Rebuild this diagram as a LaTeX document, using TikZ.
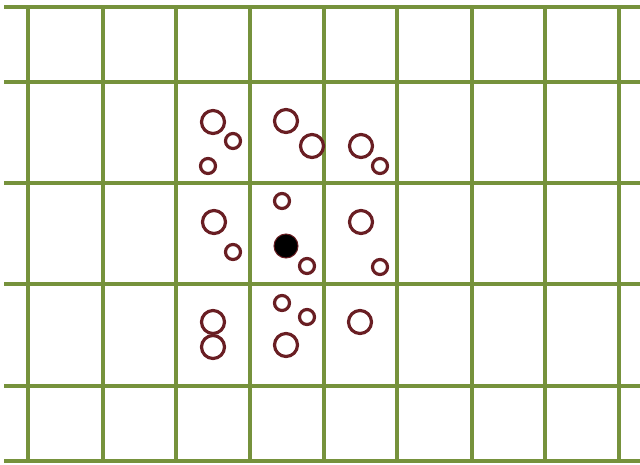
\documentclass[tikz,border=0pt]{standalone}
\usepackage{xcolor}
\usepackage{tikz}
\definecolor{gridgreen}{RGB}{118,146,60}
\definecolor{ringred}{RGB}{105,30,35}
\tikzset{
  gridline/.style={draw=gridgreen, line width=2.3pt},
  bigring/.style={draw=ringred, line width=1.8pt},
  smallring/.style={draw=ringred, line width=1.8pt},
  dotfill/.style={fill=black, draw=ringred, line width=0.6pt}
}

\begin{document}
\begin{tikzpicture}[x=0.02cm, y=-0.02cm]
  \useasboundingbox (0,0) rectangle (640,464);
  % grid
  \foreach \gy in {7,82,183,284,386,461}
    \draw[gridline] (4,\gy) -- (640,\gy);
  \foreach \gx in {28,103,176,250,324,397,472,545,619}
    \draw[gridline] (\gx,7) -- (\gx,461);
  % large rings
  \foreach \cx/\cy in {213/122, 286/121, 312/146, 361/146,
                       214/222, 361/222,
                       213/322, 213/347, 286/345, 360/322}
    \draw[bigring] (\cx,\cy) circle (11.5);
  % small rings
  \foreach \cx/\cy in {233/141, 208/166, 380/166,
                       233/252, 282/201, 307/266, 380/267,
                       282/303, 307/317}
    \draw[smallring] (\cx,\cy) circle (7.5);
  % filled centre
  \draw[dotfill] (286,246) circle (12);
\end{tikzpicture}
\end{document}
